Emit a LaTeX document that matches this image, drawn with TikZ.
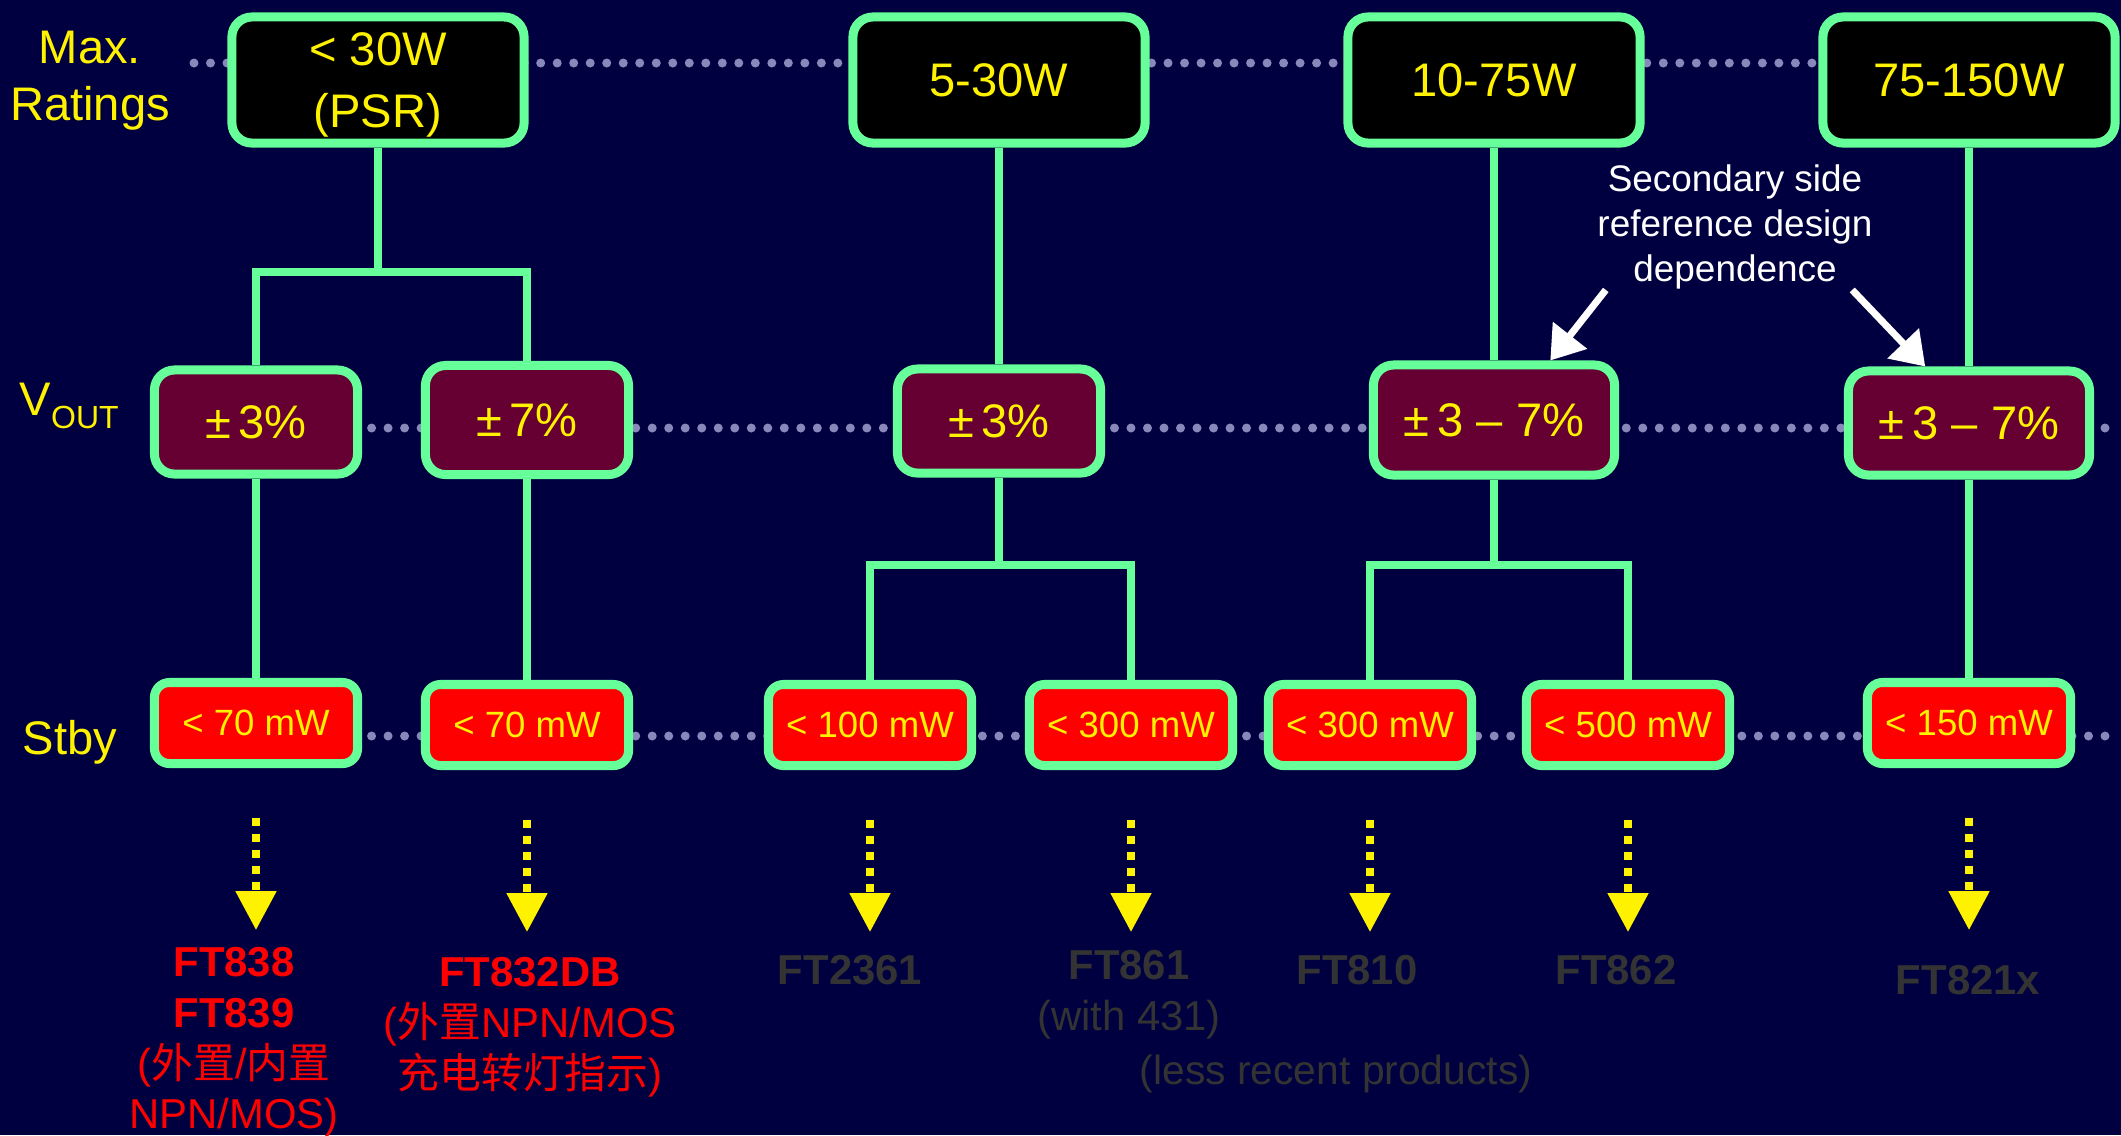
\documentclass[tikz,border=0pt]{standalone}
\usepackage{fontspec}
\setmainfont{Liberation Sans}
\newfontfamily\cjk{Noto Sans CJK SC}
\usepackage{tikz}
\usetikzlibrary{arrows.meta, calc}

\definecolor{navy}{HTML}{000040}
\definecolor{mint}{HTML}{66FF99}
\definecolor{wine}{HTML}{660033}
\definecolor{dotgray}{HTML}{8888BB}
\definecolor{dimtext}{HTML}{333333}

\begin{document}
\begin{tikzpicture}[x=0.01cm, y=-0.01cm,
    rating/.style={draw=mint, line width=0.09cm, rounded corners=0.2cm, fill=black, text=yellow, minimum width=2.92cm, minimum height=1.26cm, align=center, font=\fontsize{13.4}{17}\selectfont},
    vout/.style={rating, fill=wine, minimum width=2.03cm, minimum height=1.04cm},
    stby/.style={rating, fill=red, minimum width=2.03cm, minimum height=0.81cm, rounded corners=0.15cm, font=\fontsize{10.4}{12}\selectfont},
    link/.style={draw=mint, line width=0.08cm},
    guide/.style={dotgray, line width=0.09cm, line cap=round, dash pattern=on 0pt off 0.165cm},
    pick/.style={yellow, line width=0.08cm, dash pattern=on 0.08cm off 0.08cm, -{Triangle[length=0.39cm, width=0.39cm]}},
    hint/.style={white, line width=0.07cm, -{Triangle[length=0.32cm, width=0.42cm]}},
    part/.style={text=red, font=\fontsize{11.9}{14.4}\selectfont, align=center, inner sep=0pt, anchor=north},
    oldpart/.style={part, text=dimtext},
    side/.style={text=yellow, font=\fontsize{13.4}{16.2}\selectfont, align=center, inner sep=0pt}
]
    \useasboundingbox (0,0) rectangle (2121,1135);
    \fill[navy] (0,0) rectangle (2121,1135);

    % dotted row guides
    \draw[guide] (194,63) -- (2121,63);
    \draw[guide] (256,428) -- (2121,428);
    \draw[guide] (256,736) -- (2121,736);

    \node[side, anchor=north] (ratings) at (90,30) {Max.\\Ratings};
    \node[side, anchor=base west] (vlabel) at (19,415) {V\raisebox{-0.13cm}{\fontsize{9.1}{10}\selectfont OUT}};
    \node[side, anchor=base west] (stbylabel) at (22,754) {Stby};

    \node[rating, text depth=0pt, font=\fontsize{13.4}{17.6}\selectfont] (top1) at (378,80) {< 30W\\(PSR)};
    \node[rating] (top2) at (999,80) {5-30W};
    \node[rating] (top3) at (1494,80) {10-75W};
    \node[rating] (top4) at (1969,80) {75-150W};

    \node[vout] (v1) at (256,422) {±\,3\%};
    \node[vout, minimum height=1.09cm] (v2) at (527,420) {±\,7\%};
    \node[vout] (v3) at (999,421) {±\,3\%};
    \node[vout, minimum width=2.41cm, minimum height=1.1cm] (v4) at (1494,420) {±\,3 – 7\%};
    \node[vout, minimum width=2.41cm] (v5) at (1969,423) {±\,3 – 7\%};

    \node[stby] (s1) at (256,723) {< 70 mW};
    \node[stby] (s2) at (527,725) {< 70 mW};
    \node[stby] (s3) at (870,725) {< 100 mW};
    \node[stby] (s4) at (1131,725) {< 300 mW};
    \node[stby] (s5) at (1370,725) {< 300 mW};
    \node[stby] (s6) at (1628,725) {< 500 mW};
    \node[stby] (s7) at (1969,723) {< 150 mW};

    \coordinate (fork1) at (378,272);
    \coordinate (fork3) at (999,565);
    \coordinate (fork4) at (1494,565);

    \draw[link] (top1) -- (fork1);
    \draw[link] (v1) |- (fork1) -| (v2);
    \draw[link] (v1) -- (s1);
    \draw[link] (v2) -- (s2);
    \draw[link] (top2) -- (v3);
    \draw[link] (v3) -- (fork3);
    \draw[link] (s3) |- (fork3) -| (s4);
    \draw[link] (top3) -- (v4);
    \draw[link] (v4) -- (fork4);
    \draw[link] (s5) |- (fork4) -| (s6);
    \draw[link] (top4) -- (v5);
    \draw[link] (v5) -- (s7);

    \node[align=center, text=white, font=\fontsize{10.5}{12.8}\selectfont, inner sep=0pt] (note) at (1735,227) {Secondary side\\reference design\\dependence};
    \draw[hint] ([xshift=0.09cm]note.south west) -- ($(v4.north)!.45!(v4.north east)$);
    \draw[hint] ([xshift=-0.21cm]note.south east) -- ($(v5.north)!.35!(v5.north west)$);

    \foreach \i in {1,...,7}
        \draw[pick] ([yshift=-0.5cm]s\i.south) -- ([yshift=-1.62cm]s\i.south);

    \node[part] (lab1) at (234,947) {\textbf{FT838}\\\textbf{FT839}\\({\cjk 外置}/{\cjk 内置}\\NPN/MOS)};
    \node[part] (lab2) at (530,957) {\textbf{FT832DB}\\({\cjk 外置}NPN/MOS\\{\cjk 充电转灯指示})};
    \node[oldpart] (lab3) at (850,955) {\textbf{FT2361}};
    \node[oldpart] (lab4) at (1129,950) {\textbf{FT861}\\(with 431)};
    \node[oldpart] (lab5) at (1357,955) {\textbf{FT810}};
    \node[oldpart] (lab6) at (1616,955) {\textbf{FT862}};
    \node[oldpart] (lab7) at (1968,965) {\textbf{FT821x}};
    \node[oldpart, anchor=center, font=\fontsize{11.6}{14}\selectfont] (lessnote) at (1336,1074) {(less recent products)};
\end{tikzpicture}
\end{document}
